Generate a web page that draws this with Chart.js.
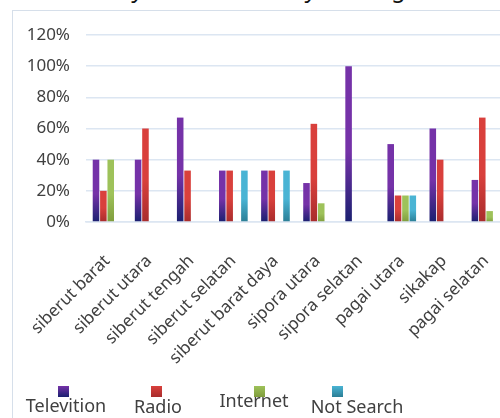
<!DOCTYPE html>
<html>
<head>
<meta charset="utf-8">
<script src="https://cdn.jsdelivr.net/npm/chart.js@4"></script>
<style>
  html, body { margin: 0; padding: 0; width: 500px; height: 418px; overflow: hidden; background: #fff; }
  #title { position: absolute; left: 82px; top: -28px; font: 23px "Noto Sans", sans-serif; color: #111; white-space: nowrap; }
  #box { position: absolute; left: 12px; top: 10px; width: 510px; height: 420px; border: 1px solid #d6dfea; background: #fff; }
  #chart { position: absolute; left: 0; top: 0; }
</style>
</head>
<body>
<div id="title">Study the Community to Sought Information</div>
<div id="box"><canvas id="chart" width="500" height="407"></canvas></div>
<script>
// ---- data (percent) ----
const districts = ['siberut barat', 'siberut utara', 'siberut tengah', 'siberut selatan', 'siberut barat daya',
                   'sipora utara', 'sipora selatan', 'pagai utara', 'sikakap', 'pagai selatan'];
const television = [40, 40, 67, 33, 33, 25, 100, 50, 60, 27];
const radio      = [20, 60, 33, 33, 33, 63, 0, 17, 40, 67];
const internet   = [40, 0, 0, 0, 0, 12, 0, 17, 0, 7];
const notSearch  = [0, 0, 0, 33, 33, 0, 0, 17, 0, 0];
const yTicks = [0, 20, 40, 60, 80, 100, 120];

const seriesNames = ['Televition', 'Radio', 'Internet', 'Not Search'];
// top / bottom colours of each bar gradient
const shades = [
  ['#7532a8', '#1a2070'],
  ['#d9403c', '#a82c2c'],
  ['#9ec25a', '#7f9c3c'],
  ['#4ab4d4', '#2b7e95']
];

// gradient runs over each bar's own height
function grad(i) {
  return ctx => {
    const chart = ctx.chart;
    const y = chart.scales && chart.scales.y;
    if (!chart.chartArea || !y || ctx.raw == null) return shades[i][0];
    const top = y.getPixelForValue(ctx.raw);
    const bottom = y.getPixelForValue(0);
    if (bottom - top < 1) return shades[i][0];
    const g = chart.ctx.createLinearGradient(0, top, 0, bottom);
    g.addColorStop(0, shades[i][0]);
    g.addColorStop(0.55, shades[i][0]);
    g.addColorStop(1, shades[i][1]);
    return g;
  };
}

// legend: swatch above label, like the original sheet
const legendBelow = {
  id: 'legendBelow',
  afterDraw(chart) {
    const c = chart.ctx;
    const xs = [53, 145, 241, 344];      // label centres
    const ty = [396, 397, 391, 397];     // label middles
    const sx = [50, 143, 246, 324];      // swatch centres
    c.save();
    c.font = '18px "Noto Sans", sans-serif';
    c.textAlign = 'center';
    c.textBaseline = 'middle';
    seriesNames.forEach((name, i) => {
      const g = c.createLinearGradient(0, 375, 0, 386);
      g.addColorStop(0, shades[i][0]);
      g.addColorStop(1, shades[i][1]);
      c.fillStyle = g;
      c.fillRect(sx[i] - 5, 375, 11, 11);
      c.fillStyle = '#404040';
      c.fillText(name, xs[i], ty[i]);
    });
    c.restore();
  }
};

const sets = [television, radio, internet, notSearch];

new Chart(document.getElementById('chart'), {
  type: 'bar',
  data: {
    labels: districts,
    datasets: sets.map((d, i) => ({
      label: seriesNames[i],
      data: d,
      backgroundColor: grad(i),
      borderWidth: 0,
      barPercentage: 0.89,
      categoryPercentage: 0.70
    }))
  },
  options: {
    responsive: false,
    animation: false,
    layout: { padding: { top: 24, right: 6, left: 0, bottom: 0 } },
    plugins: { legend: { display: false }, tooltip: { enabled: false } },
    scales: {
      x: {
        grid: { display: false, drawTicks: false },
        border: { color: '#dce6f2', width: 1.5 },
        ticks: {
          color: '#404040',
          font: { family: 'Noto Sans', size: 17 },
          maxRotation: 45, minRotation: 45,
          padding: 29,
          autoSkip: false
        },
        afterFit(s) {
          s.height = 196;
          s.paddingLeft = 0;
          s.paddingRight = 0;
        }
      },
      y: {
        min: 0, max: 120,
        afterBuildTicks(s) { s.ticks = yTicks.map(v => ({ value: v })); },
        grid: { color: '#dce6f2', lineWidth: 1.5, drawTicks: false },
        border: { display: false },
        ticks: {
          color: '#404040',
          font: { family: 'Noto Sans', size: 17 },
          padding: 16,
          callback: v => v + '%'
        },
        afterFit(s) {
          s.width = 73;
          s.paddingTop = 0;
          s.paddingBottom = 0;
        }
      }
    }
  },
  plugins: [legendBelow]
});
</script>
</body>
</html>
